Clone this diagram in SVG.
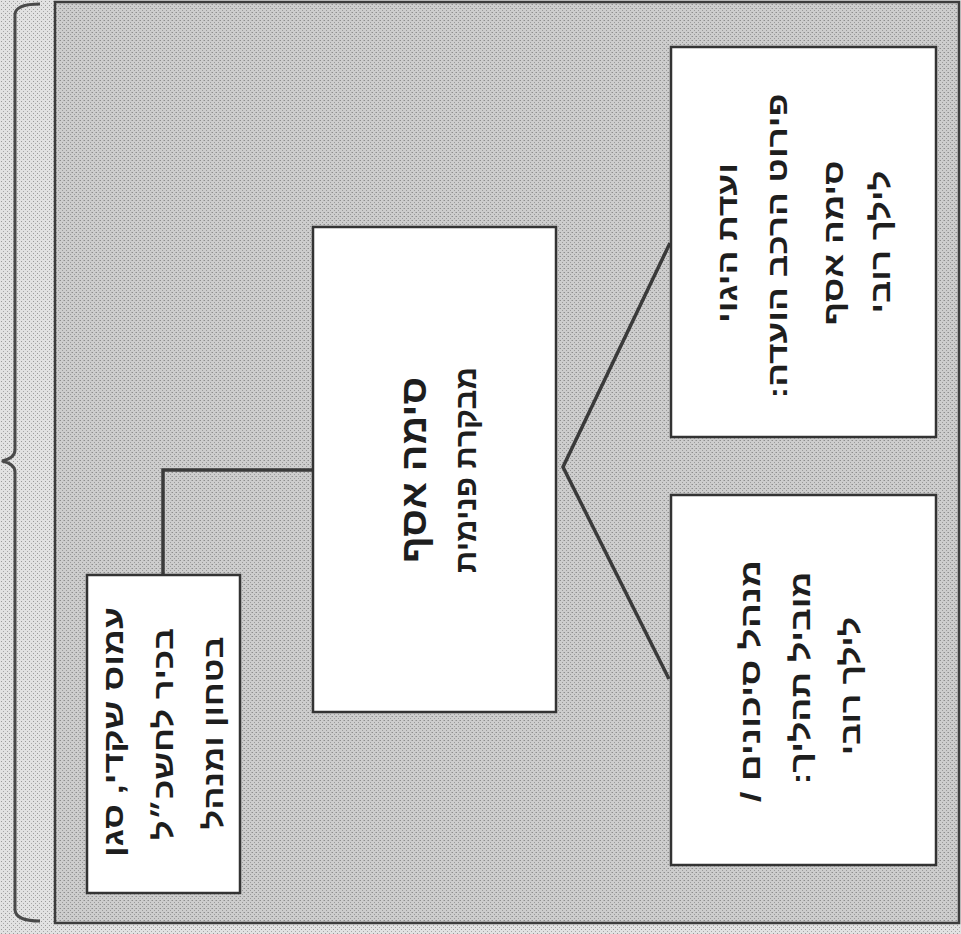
<svg xmlns="http://www.w3.org/2000/svg" width="961" height="934" viewBox="0 0 961 934">
  <style>
    .box { fill: #ffffff; stroke: #333333; stroke-width: 2.5; }
    .conn { fill: none; stroke: #3a3a3a; stroke-width: 3.5; stroke-linejoin: miter; }
    .frame { stroke: #3c3c3c; stroke-width: 2.5; }
    .brace { fill: none; stroke: #4a4a4a; stroke-width: 3; }
    .t { font-family: "Liberation Sans", "DejaVu Sans", sans-serif; font-weight: bold; fill: #1e1e1e; text-anchor: middle; dominant-baseline: central; direction: rtl; font-size: 28px; }
    .title { font-size: 36px; }
    .sub { font-size: 30px; }
  </style>
  <defs>
    <pattern id="dither" width="4" height="4" patternUnits="userSpaceOnUse">
      <rect width="4" height="4" fill="#cdcdcd"/>
      <rect x="0" y="0" width="1" height="1" fill="#8e8e8e"/>
      <rect x="2" y="2" width="1" height="1" fill="#9a9a9a"/>
      <rect x="3" y="0" width="1" height="1" fill="#b0b0b0"/>
    </pattern>
    <pattern id="dither2" width="4" height="4" patternUnits="userSpaceOnUse">
      <rect width="4" height="4" fill="#e2e2e2"/>
      <rect x="1" y="1" width="1" height="1" fill="#9a9a9a"/>
      <rect x="3" y="3" width="1" height="1" fill="#a8a8a8"/>
    </pattern>
  </defs>

  <rect x="0" y="0" width="961" height="934" fill="url(#dither2)"/>
  <rect id="frame" class="frame" x="55" y="2" width="904" height="921" fill="url(#dither)"/>

  <path id="brace" class="brace" d="M40,4 Q16,4 15,14 L15,450 Q15,458 2,461 Q15,464 15,472 L15,910 Q16,921 40,921"/>

  <g id="connectors">
    <polyline class="conn" points="313,470 163,470 163,575"/>
    <polyline class="conn" points="670,243 563,467 669,679"/>
  </g>

  <g id="node-center">
    <rect class="box" x="313" y="227" width="243" height="485"/>
    <text class="t title" transform="translate(413,470) rotate(-90)" textLength="186" lengthAdjust="spacingAndGlyphs">סימה אסף</text>
    <text class="t sub" transform="translate(465,470) rotate(-90)" textLength="206" lengthAdjust="spacingAndGlyphs">מבקרת פנימית</text>
  </g>

  <g id="node-steering">
    <rect class="box" x="671" y="47" width="265" height="390"/>
    <text class="t" transform="translate(727,243) rotate(-90)" textLength="160" lengthAdjust="spacingAndGlyphs">ועדת היגוי</text>
    <text class="t" transform="translate(777,246) rotate(-90)" textLength="305" lengthAdjust="spacingAndGlyphs">פירוט הרכב הועדה:</text>
    <text class="t" transform="translate(833,243) rotate(-90)" textLength="165" lengthAdjust="spacingAndGlyphs">סימה אסף</text>
    <text class="t" transform="translate(880,242) rotate(-90)" textLength="143" lengthAdjust="spacingAndGlyphs">לילך רובי</text>
  </g>

  <g id="node-risk">
    <rect class="box" x="671" y="495" width="265" height="370"/>
    <text class="t" transform="translate(750,681) rotate(-90)" textLength="242" lengthAdjust="spacingAndGlyphs">מנהל סיכונים /</text>
    <text class="t" transform="translate(800,678) rotate(-90)" textLength="213" lengthAdjust="spacingAndGlyphs">מוביל תהליך:</text>
    <text class="t" transform="translate(850,686) rotate(-90)" textLength="138" lengthAdjust="spacingAndGlyphs">לילך רובי</text>
  </g>

  <g id="node-deputy">
    <rect class="box" x="87" y="575" width="153" height="318"/>
    <text class="t" transform="translate(113,732) rotate(-90)" textLength="250" lengthAdjust="spacingAndGlyphs">עמוס שקדי, סגן</text>
    <text class="t" transform="translate(163,734) rotate(-90)" textLength="212" lengthAdjust="spacingAndGlyphs">בכיר לחשכ״ל</text>
    <text class="t" transform="translate(213,733) rotate(-90)" textLength="193" lengthAdjust="spacingAndGlyphs">בטחון ומנהל</text>
  </g>
</svg>
